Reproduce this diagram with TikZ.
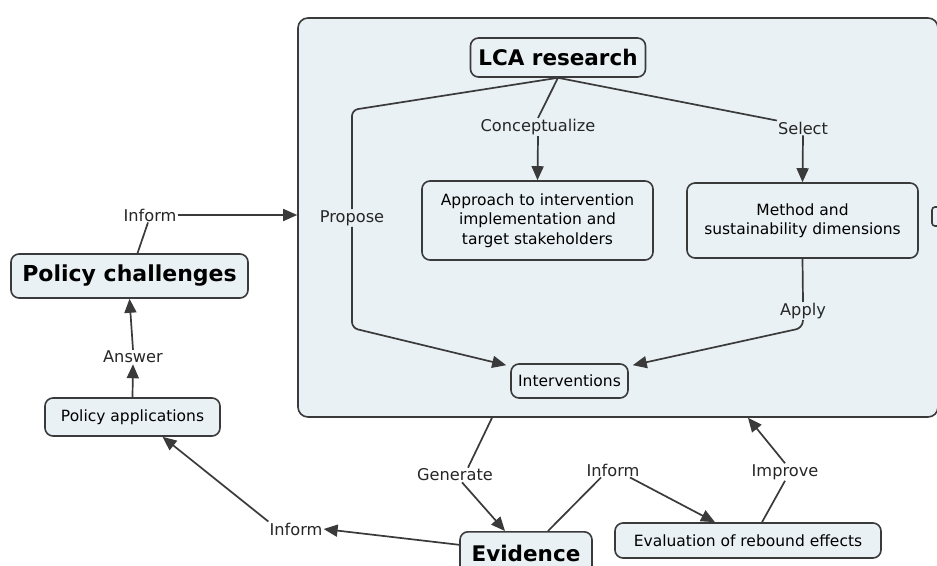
\documentclass[tikz,border=0pt]{standalone}
\usepackage{fontspec}
\setmainfont{DejaVu Sans}
\usetikzlibrary{arrows.meta}
\definecolor{boxfill}{HTML}{E9F1F4}
\definecolor{linec}{HTML}{3A3A3A}
\begin{document}
\begin{tikzpicture}[x=1pt,y=-1pt,
 box/.style={draw=linec, line width=1.6pt, fill=boxfill, rounded corners=8pt,
   font=\fontsize{15.5}{19.5}\selectfont, align=center, inner sep=0pt},
 bigbox/.style={box, font=\fontsize{21.5}{26}\selectfont\bfseries},
 lab/.style={font=\fontsize{16.2}{19}\selectfont, inner sep=1pt, text=black!85},
 conn/.style={draw=linec, line width=1.7pt},
 arr/.style={conn, -{Triangle[length=14pt,width=12pt]}},
]
\useasboundingbox (0,0) rectangle (937,565);
\clip (0,0) rectangle (937,565);
\fill[white] (0,0) rectangle (937,565);

% container
\node[draw=linec, fill=boxfill, rounded corners=10pt, line width=1.6pt,
  minimum width=640pt, minimum height=399pt, inner sep=0pt] (cont) at (618,217.5) {};

% boxes
\node[bigbox, minimum width=175pt, minimum height=39pt] (lca) at (558,57.5) {LCA research};
\node[box, minimum width=231pt, minimum height=79pt] (approach) at (537.5,220.5)
  {Approach to intervention\\implementation and\\target stakeholders};
\node[box, minimum width=231pt, minimum height=75pt] (method) at (802.5,220.5)
  {Method and\\sustainability dimensions};
\node[box, minimum width=117pt, minimum height=34pt] (interv) at (569.5,381) {Interventions};
\node[bigbox, minimum width=237pt, minimum height=44pt, font=\fontsize{22}{26}\selectfont\bfseries] (polch) at (129.5,276) {Policy challenges};
\node[box, minimum width=175pt, minimum height=38pt] (polapp) at (132.5,417) {Policy applications};
\node[bigbox, minimum width=132pt, minimum height=44pt, anchor=north] (evid) at (526,531) {\raisebox{1pt}{Evidence}};
\node[box, minimum width=266pt, minimum height=35pt] (evalu) at (748,540.5) {Evaluation of rebound effects};
\node[box, minimum width=16pt, minimum height=19pt, rounded corners=3pt] (edge) at (940,216.5) {};

% labels
\node[lab] (lConc) at (538,127) {Conceptualize};
\node[lab] (lSel) at (803,128) {Select};
\node[lab] (lProp) at (352,218) {Propose};
\node[lab] (lApply) at (803,311) {Apply};
\node[lab] (lInf1) at (150,215) {Inform};
\node[lab] (lAns) at (133,357) {Answer};
\node[lab] (lInf2) at (296,529) {Inform};
\node[lab] (lGen) at (455,475) {Generate};
\node[lab] (lInf3) at (613,470) {Inform};
\node[lab] (lImp) at (785,472) {Improve};

% corner coordinates
\coordinate (pTop) at (352,110);
\coordinate (pBot) at (352,328);
\coordinate (aBot) at (802,328);

% connectors inside
\draw[conn] (lca.south) -- (lConc.north);
\draw[arr] (lConc.south) -- (approach.north);
\draw[conn] (lca.south) -- (lSel.north west);
\draw[arr] (lSel.south) -- (method.north);
\draw[conn, rounded corners=6pt] (lca.south) -- (pTop) -- (lProp.north);
\draw[arr, rounded corners=6pt] (lProp.south) -- (pBot) -- ([xshift=-4pt,yshift=-2pt]interv.north west);
\draw[conn] (method.south) -- (lApply.north);
\draw[arr, rounded corners=6pt] (lApply.south) -- (aBot) -- ([xshift=4pt,yshift=-2pt]interv.north east);

% left side
\draw[conn] ([xshift=8pt]polch.north) -- ([xshift=-2pt]lInf1.south);
\draw[arr] (lInf1.east) -- (lInf1.east -| cont.west);
\draw[arr] (lAns.north) -- (polch.south);
\draw[arr] (polapp.north) -- (lAns.south);

% bottom
\draw[arr] ([yshift=9pt]evid.west) -- (lInf2.east);
\draw[arr] (lInf2.north west) -- ([xshift=30pt]polapp.south);
\draw[conn] ([xshift=-126pt]cont.south) -- ([xshift=13pt]lGen.north);
\draw[arr] ([xshift=7pt]lGen.south) -- ([xshift=-21pt]evid.north);
\draw[conn] ([xshift=22pt]evid.north) -- ([xshift=-12pt]lInf3.south);
\draw[arr] ([xshift=17pt]lInf3.south) -- ([xshift=-33pt]evalu.north);
\draw[conn] ([xshift=14pt]evalu.north) -- (lImp.south);
\draw[arr] (lImp.north) -- ([xshift=130pt]cont.south);
\end{tikzpicture}
\end{document}
